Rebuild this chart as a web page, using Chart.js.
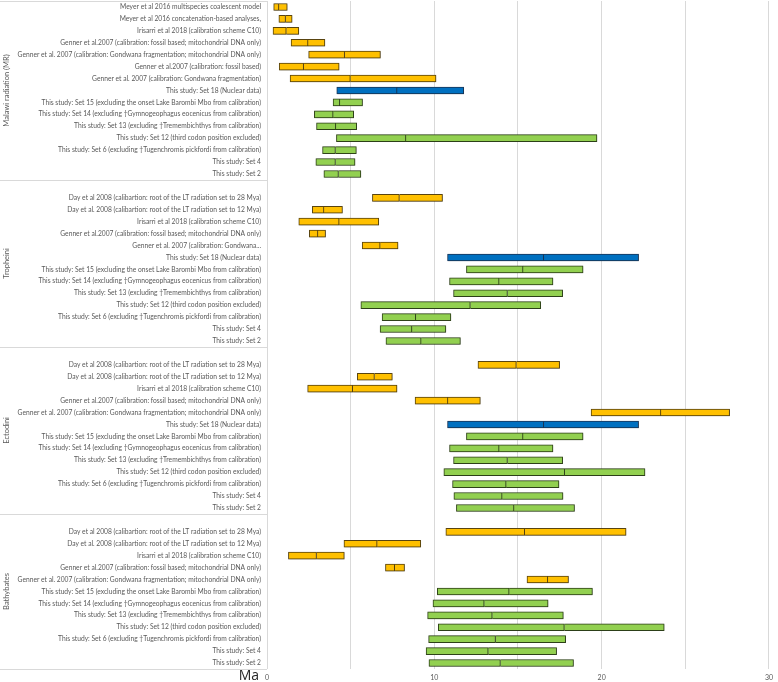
<!DOCTYPE html>
<html>
<head>
<meta charset="utf-8">
<script src="https://cdn.jsdelivr.net/npm/chart.js@4.4.1/dist/chart.umd.min.js"></script>
<style>
    html, body { margin: 0; padding: 0; background: #fff; }
    #wrap { width: 778px; height: 682px; }
</style>
</head>
<body>
<div id="wrap"><canvas id="charAges"></canvas></div>
<script>
const groupNames = ['Malawi radiation (MR)', 'Tropheini', 'Ectodini', 'Bathybates'];

const mrLabels = [
    'Meyer et al 2016 multispecies coalescent model',
    'Meyer et al 2016 concatenation-based analyses,',
    'Irisarri et al 2018 (calibration scheme C10)',
    'Genner et al.2007 (calibration: fossil based; mitochondrial DNA only)',
    'Genner et al. 2007 (calibration: Gondwana fragmentation; mitochondrial DNA only)',
    'Genner et al.2007 (calibration: fossil based)',
    'Genner et al. 2007 (calibration: Gondwana fragmentation)',
    'This study: Set 18 (Nuclear data)',
    'This study: Set 15 (excluding the onset Lake Barombi Mbo from calibration)',
    'This study: Set 14 (excluding \u2020Gymnogeophagus eocenicus from calibration)',
    'This study: Set 13 (excluding \u2020Tremembichthys from calibration)',
    'This study: Set 12 (third codon position excluded)',
    'This study: Set 6 (excluding \u2020Tugenchromis pickfordi from calibration)',
    'This study: Set 4',
    'This study: Set 2'
];
const mrLow    = [0.40, 0.71, 0.36, 1.44, 2.49, 0.73, 1.38, 4.17, 3.95, 2.83, 2.96, 4.15, 3.32, 2.92, 3.40];
const mrMedian = [0.71, 1.11, 1.15, 2.45, 4.64, 2.19, 4.98, 7.77, 4.35, 3.95, 4.11, 8.30, 4.09, 4.09, 4.27];
const mrHigh   = [1.21, 1.50, 1.90, 3.46, 6.78, 4.31, 10.10, 11.76, 5.71, 5.18, 5.36, 19.72, 5.34, 5.26, 5.61];

const tropheiniLabels = [
    'Day et al 2008 (calibartion: root of the LT radiation set to 28 Mya)',
    'Day et al. 2008 (calibartion: root of the LT radiation set to 12 Mya)',
    'Irisarri et al 2018 (calibration scheme C10)',
    'Genner et al.2007 (calibration: fossil based; mitochondrial DNA only)',
    'Genner et al. 2007 (calibration: Gondwana...',
    'This study: Set 18 (Nuclear data)',
    'This study: Set 15 (excluding the onset Lake Barombi Mbo from calibration)',
    'This study: Set 14 (excluding \u2020Gymnogeophagus eocenicus from calibration)',
    'This study: Set 13 (excluding \u2020Tremembichthys from calibration)',
    'This study: Set 12 (third codon position excluded)',
    'This study: Set 6 (excluding \u2020Tugenchromis pickfordi from calibration)',
    'This study: Set 4',
    'This study: Set 2'
];
const tropheiniLow    = [6.30, 2.71, 1.90, 2.53, 5.69, 10.79, 11.92, 10.91, 11.15, 5.61, 6.88, 6.76, 7.11];
const tropheiniMedian = [7.91, 3.40, 4.31, 3.04, 6.76, 16.54, 15.30, 13.87, 14.37, 12.15, 8.89, 8.66, 9.21];
const tropheiniHigh   = [10.49, 4.51, 6.68, 3.50, 7.83, 22.21, 18.89, 17.09, 17.67, 16.36, 10.99, 10.69, 11.56];

const ectodiniLabels = [
    'Day et al 2008 (calibartion: root of the LT radiation set to 28 Mya)',
    'Day et al. 2008 (calibartion: root of the LT radiation set to 12 Mya)',
    'Irisarri et al 2018 (calibration scheme C10)',
    'Genner et al.2007 (calibration: fossil based; mitochondrial DNA only)',
    'Genner et al. 2007 (calibration: Gondwana fragmentation; mitochondrial DNA only)',
    'This study: Set 18 (Nuclear data)',
    'This study: Set 15 (excluding the onset Lake Barombi Mbo from calibration)',
    'This study: Set 14 (excluding \u2020Gymnogeophagus eocenicus from calibration)',
    'This study: Set 13 (excluding \u2020Tremembichthys from calibration)',
    'This study: Set 12 (third codon position excluded)',
    'This study: Set 6 (excluding \u2020Tugenchromis pickfordi from calibration)',
    'This study: Set 4',
    'This study: Set 2'
];
const ectodiniLow    = [12.61, 5.40, 2.43, 8.85, 19.37, 10.79, 11.92, 10.91, 11.15, 10.57, 11.09, 11.17, 11.32];
const ectodiniMedian = [14.90, 6.42, 5.12, 10.81, 23.54, 16.54, 15.30, 13.87, 14.37, 17.79, 14.29, 14.05, 14.76];
const ectodiniHigh   = [17.49, 7.49, 7.77, 12.75, 27.65, 22.21, 18.89, 17.09, 17.67, 22.59, 17.45, 17.69, 18.38];

const bathyLabels = [
    'Day et al 2008 (calibartion: root of the LT radiation set to 28 Mya)',
    'Day et al. 2008 (calibartion: root of the LT radiation set to 12 Mya)',
    'Irisarri et al 2018 (calibration scheme C10)',
    'Genner et al.2007 (calibration: fossil based; mitochondrial DNA only)',
    'Genner et al. 2007 (calibration: Gondwana fragmentation; mitochondrial DNA only)',
    'This study: Set 15 (excluding the onset Lake Barombi Mbo from calibration)',
    'This study: Set 14 (excluding \u2020Gymnogeophagus eocenicus from calibration)',
    'This study: Set 13 (excluding \u2020Tremembichthys from calibration)',
    'This study: Set 12 (third codon position excluded)',
    'This study: Set 6 (excluding \u2020Tugenchromis pickfordi from calibration)',
    'This study: Set 4',
    'This study: Set 2'
];
const bathyLow    = [10.69, 4.60, 1.28, 7.08, 15.54, 10.18, 9.92, 9.60, 10.24, 9.66, 9.51, 9.68];
const bathyMedian = [15.40, 6.58, 2.96, 7.63, 16.78, 14.47, 12.98, 13.46, 17.77, 13.66, 13.22, 13.95];
const bathyHigh   = [21.46, 9.19, 4.62, 8.22, 18.02, 19.45, 16.80, 17.71, 23.74, 17.85, 17.31, 18.32];

const xTicks = [0, 10, 20, 30];
const axisUnit = 'Ma';

// colour by source: published = yellow, nuclear set = blue, other sets = green
function colourFor(label) {
    if (label.indexOf('Set 18') >= 0) return { fill: '#0070C0', edge: '#1C3A5E' };
    if (label.indexOf('This study') === 0) return { fill: '#92D050', edge: '#34491C' };
    return { fill: '#FFC000', edge: '#5E4810' };
}

const groups = [
    { name: groupNames[0], labels: mrLabels, low: mrLow, mid: mrMedian, high: mrHigh },
    { name: groupNames[1], labels: tropheiniLabels, low: tropheiniLow, mid: tropheiniMedian, high: tropheiniHigh },
    { name: groupNames[2], labels: ectodiniLabels, low: ectodiniLow, mid: ectodiniMedian, high: ectodiniHigh },
    { name: groupNames[3], labels: bathyLabels, low: bathyLow, mid: bathyMedian, high: bathyHigh }
];

const rowLabels = [];
const lowerPart = [];
const upperPart = [];
const fills = [];
const edges = [];
const spans = [];

groups.forEach((g, gi) => {
    const start = rowLabels.length;
    if (gi > 0) {
        // blank row at the top of each following group
        rowLabels.push('');
        lowerPart.push(null);
        upperPart.push(null);
        fills.push('transparent');
        edges.push('transparent');
    }
    g.labels.forEach((lab, i) => {
        const c = colourFor(lab);
        rowLabels.push(lab);
        lowerPart.push([g.low[i], g.mid[i]]);
        upperPart.push([g.mid[i], g.high[i]]);
        fills.push(c.fill);
        edges.push(c.edge);
    });
    spans.push({ name: g.name, start: start, end: rowLabels.length - 1 });
});

const labelFont = "Lato, 'Liberation Sans', sans-serif";

const groupAxis = {
    id: 'groupAxis',
    beforeDatasetsDraw(chart) {
        const ctx = chart.ctx;
        ctx.save();
        ctx.shadowColor = 'rgba(0, 0, 0, 0.28)';
        ctx.shadowBlur = 2;
        ctx.shadowOffsetX = 0.5;
        ctx.shadowOffsetY = 0.5;
    },
    afterDatasetsDraw(chart) {
        chart.ctx.restore();
    },
    afterDraw(chart) {
        const ctx = chart.ctx;
        const y = chart.scales.y;
        const area = chart.chartArea;
        const half = (y.getPixelForValue(1) - y.getPixelForValue(0)) / 2;
        ctx.save();
        ctx.strokeStyle = '#d9d9d9';
        ctx.lineWidth = 1;
        const lines = [area.top];
        spans.forEach(s => lines.push(y.getPixelForValue(s.end) + half));
        lines.forEach(py => {
            ctx.beginPath();
            ctx.moveTo(0, Math.round(py) + 0.5);
            ctx.lineTo(area.left, Math.round(py) + 0.5);
            ctx.stroke();
        });
        ctx.fillStyle = '#595959';
        ctx.font = '7.5px ' + labelFont;
        ctx.textAlign = 'center';
        ctx.textBaseline = 'middle';
        spans.forEach(s => {
            const top = y.getPixelForValue(s.start) - half;
            const bottom = y.getPixelForValue(s.end) + half;
            ctx.save();
            ctx.translate(7, (top + bottom) / 2);
            ctx.rotate(-Math.PI / 2);
            ctx.fillText(s.name, 0, 0);
            ctx.restore();
        });
        ctx.fillStyle = '#262626';
        ctx.font = "14px 'Open Sans', 'Liberation Sans', sans-serif";
        ctx.textAlign = 'right';
        ctx.fillText(axisUnit, 259, 676);
        ctx.restore();
    }
};

const ctxAges = document.getElementById('charAges');
const charAges = new Chart(ctxAges, {
    type: 'bar',
    data: {
        labels: rowLabels,
        datasets: [{
            data: lowerPart,
            backgroundColor: fills,
            borderColor: edges,
            borderWidth: { top: 1, right: 1, bottom: 1, left: 1 },
            borderSkipped: false,
            barThickness: 7,
            grouped: false
        }, {
            data: upperPart,
            backgroundColor: fills,
            borderColor: edges,
            borderWidth: { top: 1, right: 1, bottom: 1, left: 0 },
            borderSkipped: false,
            barThickness: 7,
            grouped: false
        }]
    },
    options: {
        indexAxis: 'y',
        responsive: true,
        maintainAspectRatio: false,
        animation: false,
        layout: { padding: { top: 1, right: 5, left: 0, bottom: 0 } },
        plugins: {
            legend: { display: false },
            tooltip: { enabled: false }
        },
        scales: {
            x: {
                min: 0,
                max: 30,
                border: { display: false },
                grid: { color: '#d9d9d9', drawTicks: false },
                ticks: {
                    stepSize: 5,
                    padding: 5,
                    color: '#595959',
                    font: { size: 7, family: labelFont },
                    callback: v => xTicks.indexOf(v) >= 0 ? v : ''
                },
                afterFit: axis => { axis.height = 13; }
            },
            y: {
                grid: { display: false, drawTicks: false },
                border: { display: false },
                ticks: {
                    autoSkip: false,
                    padding: 6,
                    color: '#595959',
                    font: { size: 6.7, family: labelFont }
                },
                afterFit: axis => {
                    axis.width = 267;
                    axis.paddingTop = 0;
                    axis.paddingBottom = 0;
                }
            }
        }
    },
    plugins: [groupAxis]
});
</script>
</body>
</html>
